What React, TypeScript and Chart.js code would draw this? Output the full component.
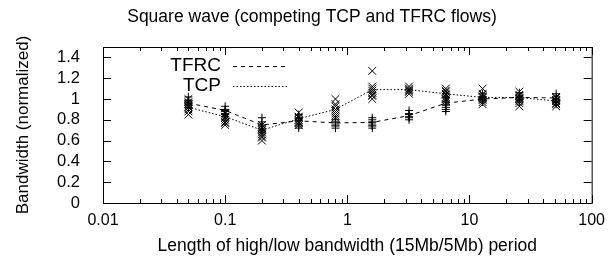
import React, { useEffect, useRef } from 'react';
import { Chart, registerables } from 'chart.js';

Chart.register(...registerables);

// ---- data ----
const periods = [0.05, 0.1, 0.2, 0.4, 0.8, 1.6, 3.2, 6.4, 12.8, 25.6, 51.2];
const tfrcMean = [0.96, 0.89, 0.75, 0.79, 0.77, 0.775, 0.84, 0.96, 1.0, 1.015, 1.01];
const tcpMean = [0.92, 0.83, 0.7, 0.81, 0.9, 1.09, 1.09, 1.05, 1.015, 1.015, 0.98];
const tcpRuns = [
  [0.85, 0.88, 0.9, 0.92, 0.93, 0.95, 0.97, 1.0],
  [0.75, 0.77, 0.78, 0.8, 0.82, 0.83, 0.86],
  [0.6, 0.63, 0.64, 0.66, 0.68, 0.7, 0.72, 0.75],
  [0.75, 0.77, 0.78, 0.8, 0.82, 0.83, 0.87],
  [0.82, 0.84, 0.86, 0.88, 0.9, 0.93, 0.95, 1.0],
  [1.0, 1.03, 1.04, 1.06, 1.08, 1.1, 1.12, 1.27],
  [1.05, 1.07, 1.08, 1.09, 1.1, 1.12],
  [0.98, 1.0, 1.02, 1.04, 1.05, 1.07, 1.08, 1.1],
  [0.95, 0.97, 0.99, 1.01, 1.02, 1.04, 1.05, 1.1],
  [0.93, 0.96, 0.98, 1.0, 1.01, 1.03, 1.04, 1.07],
  [0.93, 0.95, 0.96, 0.98, 0.99, 1.01, 1.02],
];
const tfrcRuns = [
  [0.92, 0.94, 0.95, 0.97, 0.98, 0.99, 1.02],
  [0.83, 0.85, 0.86, 0.88, 0.89, 0.9, 0.93],
  [0.68, 0.7, 0.72, 0.74, 0.75, 0.78, 0.82],
  [0.72, 0.74, 0.76, 0.79, 0.81, 0.82, 0.85],
  [0.72, 0.74, 0.75, 0.77, 0.78, 0.8],
  [0.72, 0.74, 0.75, 0.77, 0.78, 0.8, 0.82],
  [0.8, 0.82, 0.83, 0.85, 0.86, 0.89],
  [0.88, 0.9, 0.92, 0.94, 0.95, 0.97, 0.98, 1.02],
  [0.97, 0.99, 1.0, 1.01, 1.02, 1.05],
  [0.97, 0.99, 1.0, 1.02, 1.03, 1.06],
  [0.95, 0.97, 0.99, 1.0, 1.02, 1.05],
];
const xTickValues = [0.01, 0.1, 1, 10, 100];
const xTickLabels = ['0.01', '0.1', '1', '10', '100'];
const yTickValues = [0, 0.2, 0.4, 0.6, 0.8, 1, 1.2, 1.4];
const yTickLabels = ['0', '0.2', '0.4', '0.6', '0.8', '1', '1.2', '1.4'];
const seriesNames = ['TFRC', 'TCP'];
const chartTitle = 'Square wave (competing TCP and TFRC flows)';
const xTitle = 'Length of high/low bandwidth (15Mb/5Mb) period';
const yTitle = 'Bandwidth (normalized)';

const FONT = "'Liberation Sans', Arial, sans-serif";
const TFRC_DASH = [4, 4];
const TCP_DASH = [1.5, 2];

const decorPlugin = {
  id: 'decor',
  afterDraw(chart: any) {
    const { ctx, chartArea } = chart;
    const { left, right, top, bottom } = chartArea;
    const xs = chart.scales.x;
    const ys = chart.scales.y;
    ctx.save();
    ctx.strokeStyle = '#000';
    ctx.lineWidth = 1;
    ctx.setLineDash([]);
    // frame
    ctx.strokeRect(left + 0.5, top + 0.5, right - left, bottom - top);
    // x ticks (major + minor, log)
    ctx.beginPath();
    for (let d = 0; d < xTickValues.length; d++) {
      const base = xTickValues[d];
      const px = Math.round(xs.getPixelForValue(base)) + 0.5;
      ctx.moveTo(px, bottom);
      ctx.lineTo(px, bottom - 8);
      ctx.moveTo(px, top);
      ctx.lineTo(px, top + 8);
      if (d < xTickValues.length - 1) {
        for (let k = 2; k <= 9; k++) {
          const mx = Math.round(xs.getPixelForValue(base * k)) + 0.5;
          ctx.moveTo(mx, bottom);
          ctx.lineTo(mx, bottom - 4);
          ctx.moveTo(mx, top);
          ctx.lineTo(mx, top + 4);
        }
      }
    }
    for (const v of yTickValues) {
      const py = Math.round(ys.getPixelForValue(v)) + 0.5;
      ctx.moveTo(left, py);
      ctx.lineTo(left + 8, py);
      ctx.moveTo(right, py);
      ctx.lineTo(right - 8, py);
    }
    ctx.stroke();

    // title
    ctx.fillStyle = '#000';
    ctx.font = `17.5px ${FONT}`;
    ctx.textAlign = 'center';
    ctx.textBaseline = 'middle';
    ctx.fillText(chartTitle, 312, 17);

    // legend
    ctx.font = `19px ${FONT}`;
    ctx.textAlign = 'right';
    const rows = [
      { name: seriesNames[0], dash: TFRC_DASH, y: 66 },
      { name: seriesNames[1], dash: TCP_DASH, y: 86 },
    ];
    for (const r of rows) {
      ctx.fillText(r.name, 221, r.y);
      ctx.setLineDash(r.dash);
      ctx.beginPath();
      ctx.moveTo(233, r.y + 0.5);
      ctx.lineTo(288, r.y + 0.5);
      ctx.stroke();
    }
    ctx.restore();
  },
};

export default function App() {
  const ref = useRef<HTMLCanvasElement>(null);
  useEffect(() => {
    if (!ref.current) return;
    const tcpPts = periods.flatMap((p, i) => tcpRuns[i].map((v) => ({ x: p, y: v })));
    const tfrcPts = periods.flatMap((p, i) => tfrcRuns[i].map((v) => ({ x: p, y: v })));
    const chart = new Chart(ref.current, {
      type: 'scatter',
      data: {
        datasets: [
          {
            label: seriesNames[0],
            type: 'line',
            data: periods.map((p, i) => ({ x: p, y: tfrcMean[i] })),
            borderColor: '#000',
            borderWidth: 1,
            borderDash: TFRC_DASH,
            pointRadius: 0,
            fill: false,
            tension: 0,
          } as any,
          {
            label: seriesNames[1],
            type: 'line',
            data: periods.map((p, i) => ({ x: p, y: tcpMean[i] })),
            borderColor: '#000',
            borderWidth: 1,
            borderDash: TCP_DASH,
            pointRadius: 0,
            fill: false,
            tension: 0,
          } as any,
          {
            label: 'TCP runs',
            data: tcpPts,
            pointStyle: 'crossRot',
            pointRadius: 5.5,
            borderColor: '#000',
            backgroundColor: '#000',
            pointBorderWidth: 1,
          } as any,
          {
            label: 'TFRC runs',
            data: tfrcPts,
            pointStyle: 'cross',
            pointRadius: 4,
            borderColor: '#000',
            backgroundColor: '#000',
            pointBorderWidth: 1,
          } as any,
        ],
      },
      options: {
        animation: false,
        responsive: false,
        events: [],
        layout: { padding: { top: 47, right: 20, left: 0, bottom: 0 } },
        plugins: { legend: { display: false }, tooltip: { enabled: false }, title: { display: false } },
        scales: {
          x: {
            type: 'logarithmic',
            min: 0.01,
            max: 100,
            afterBuildTicks: (s: any) => {
              s.ticks = xTickValues.map((v) => ({ value: v }));
            },
            afterFit: (s: any) => {
              s.height = 58;
            },
            ticks: {
              callback: (_v: any, i: number) => xTickLabels[i],
              color: '#000',
              font: { family: FONT, size: 16 },
              padding: 8,
              maxRotation: 0,
              autoSkip: false,
            },
            grid: { display: false, drawTicks: false },
            border: { display: false },
            title: {
              display: true,
              text: xTitle,
              color: '#000',
              font: { family: FONT, size: 17.5 },
              padding: { top: 0, bottom: 4 },
            },
          },
          y: {
            type: 'linear',
            min: 0,
            max: 1.5,
            afterBuildTicks: (s: any) => {
              s.ticks = yTickValues.map((v) => ({ value: v }));
            },
            afterFit: (s: any) => {
              s.width = 103;
            },
            ticks: {
              callback: (_v: any, i: number) => yTickLabels[i],
              color: '#000',
              font: { family: FONT, size: 16.5 },
              padding: 23,
              autoSkip: false,
            },
            grid: { display: false, drawTicks: false },
            border: { display: false },
            title: {
              display: true,
              text: yTitle,
              color: '#000',
              font: { family: FONT, size: 17 },
              padding: { top: 13, bottom: 0 },
            },
          },
        },
      },
      plugins: [decorPlugin],
    });
    return () => chart.destroy();
  }, []);
  return (
    <div style={{ position: 'absolute', left: 0, top: 0, width: 613, height: 261, background: '#fff' }}>
      <canvas ref={ref} width={613} height={261} style={{ display: 'block', width: 613, height: 261 }} />
    </div>
  );
}
